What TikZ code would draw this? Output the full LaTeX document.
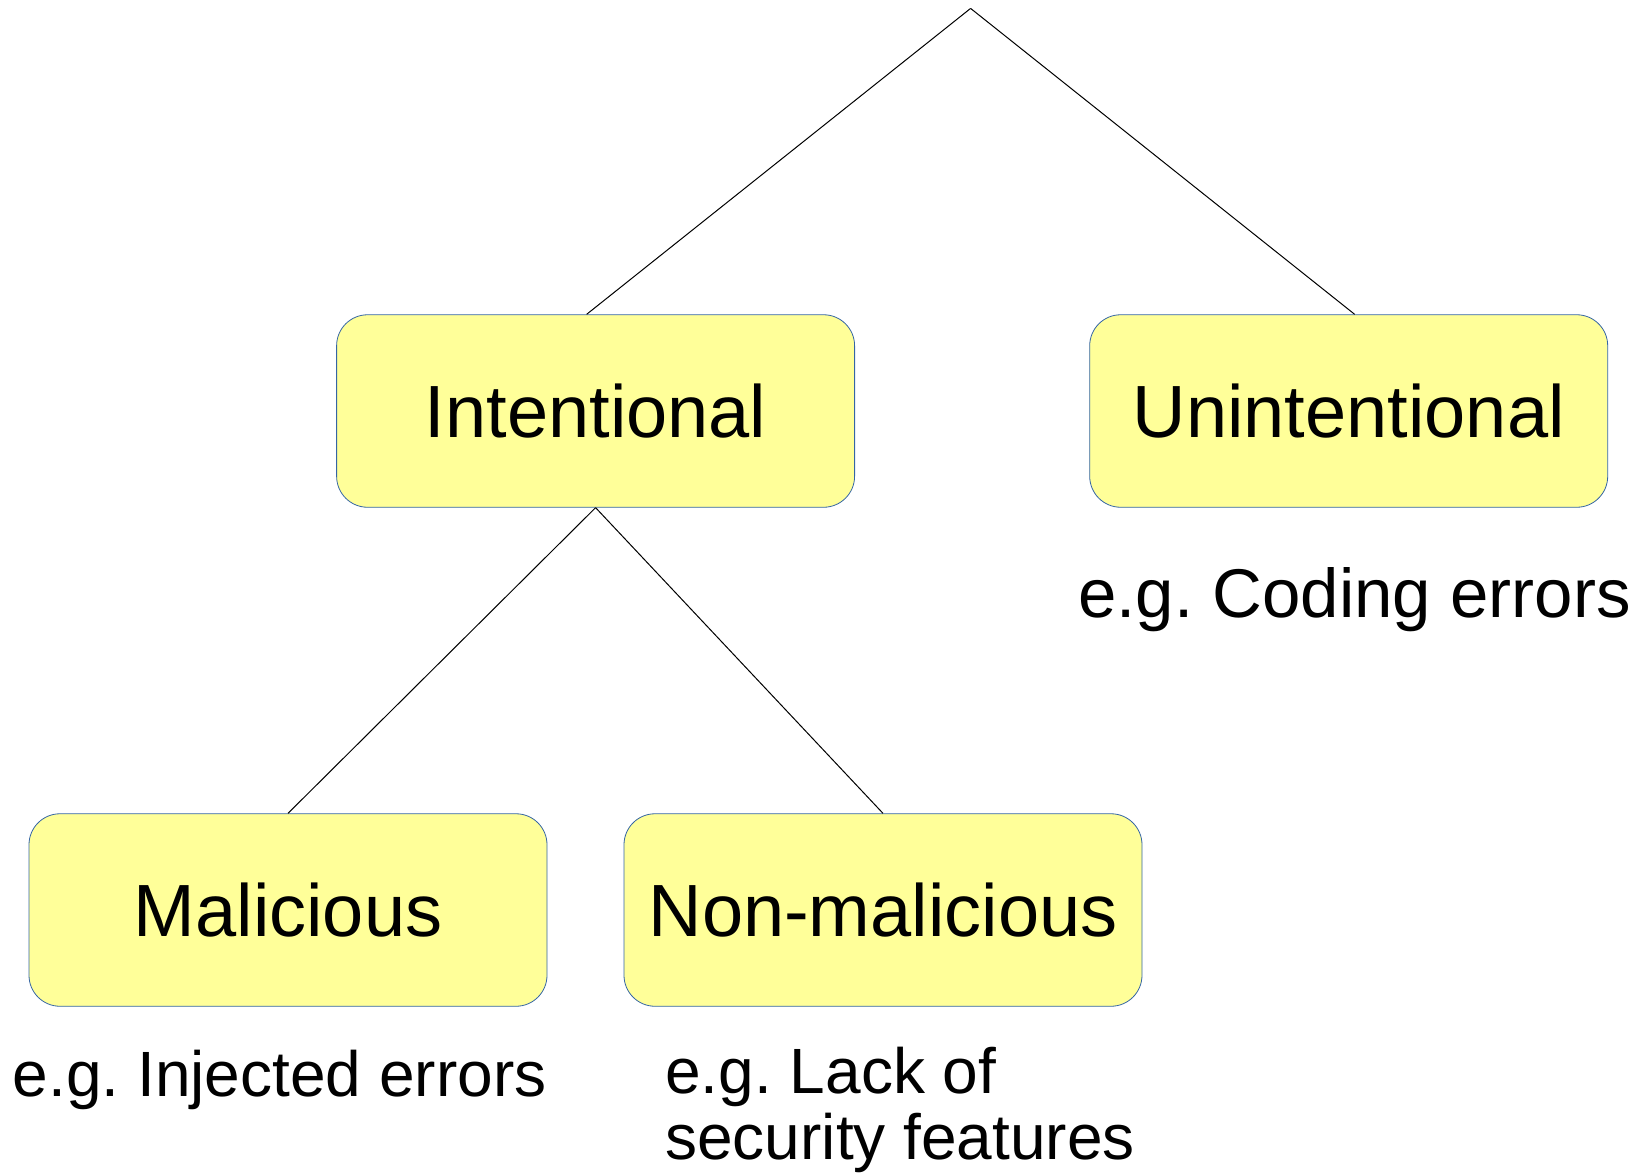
\documentclass[tikz,border=0pt]{standalone}
\usepackage{fontspec}
\setmainfont{Liberation Sans}
\usetikzlibrary{calc}
\definecolor{boxfill}{HTML}{FFFF99}
\definecolor{boxline}{HTML}{3465A4}
\frenchspacing
\begin{document}
\begin{tikzpicture}[x=0.5pt,y=-0.5pt,
  category/.style={draw=boxline, line width=0.4pt, fill=boxfill,
    rounded corners=15.5pt, minimum width=259pt, minimum height=96.25pt,
    inner sep=0pt, font=\fontsize{37}{44}\selectfont},
  example/.style={inner sep=0pt, anchor=base west, align=left},
  branch/.style={draw=black, line width=0.5pt}]
\useasboundingbox (0,0) rectangle (1640,1174);

% categories
\node[category] (inten)  at (595.6,411) {Intentional};
\node[category] (unint)  at (1348.7,411) {Unintentional};
\node[category] (mal)    at (288,910) {Malicious};
\node[category] (nonmal) at (883,910) {Non-malicious};

% examples (base anchor of a two-line node is its last line)
\node[example, font=\fontsize{34.5}{36}\selectfont] (exunint) at (1078,617) {e.g. Coding errors};
\node[example, font=\fontsize{32}{33}\selectfont] (exmal) at (12.5,1096) {e.g. Injected errors};
\node[example, font=\fontsize{32}{33}\selectfont] (exnonmal) at (665,1159) {e.g. Lack of\\security features};

% tree branches
\coordinate (apex) at (970.6,8.4);
\draw[branch] (apex) -- ($(inten.north)+(-9,0)$);
\draw[branch] (apex) -- ($(unint.north)+(6,0)$);
\draw[branch] (inten.south) -- (mal.north);
\draw[branch] (inten.south) -- (nonmal.north);
\end{tikzpicture}
\end{document}
